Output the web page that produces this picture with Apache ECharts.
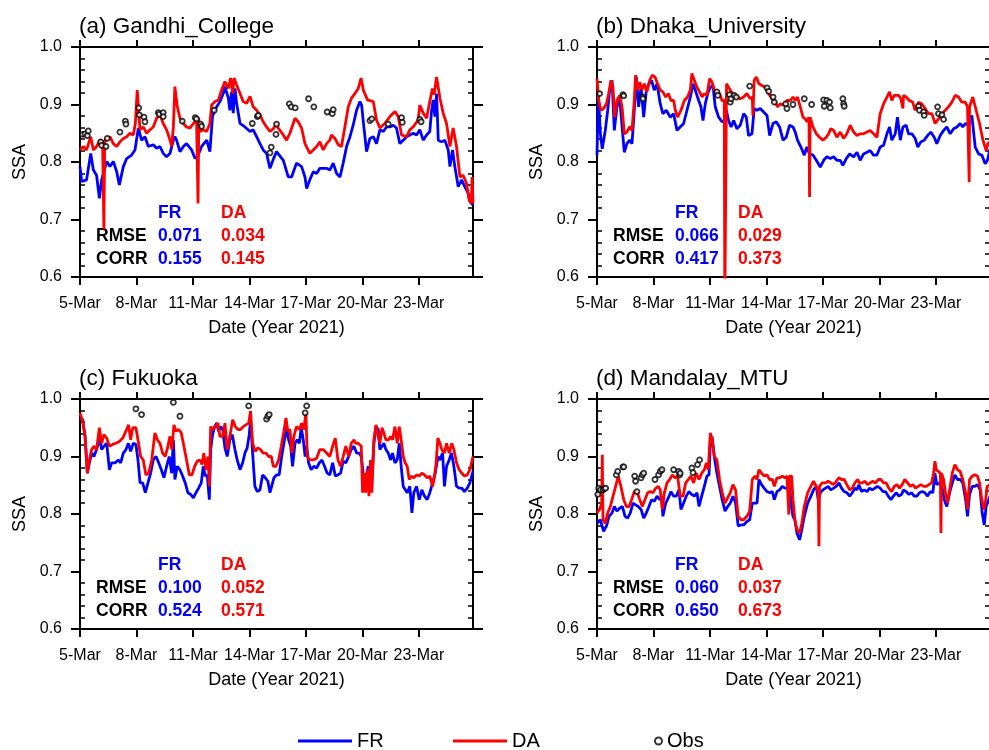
<!DOCTYPE html>
<html><head><meta charset="utf-8">
<script src="https://cdn.jsdelivr.net/npm/echarts@6/dist/echarts.min.js"></script>
<style>html,body{margin:0;padding:0;background:#fff}#c{width:989px;height:750px}</style>
</head><body><div id="c"></div>
<script>
// ---------- data (x = days since 5-Mar-2021 00:00, y = SSA) ----------
const tickDays = [0, 3, 6, 9, 12, 15, 18];
const tickLabels = ['5-Mar', '8-Mar', '11-Mar', '14-Mar', '17-Mar', '20-Mar', '23-Mar'];
const minorY = [0.62,0.64,0.66,0.68,0.72,0.74,0.76,0.78,0.82,0.84,0.86,0.88,0.92,0.94,0.96,0.98];
const panelTitles = ['(a) Gandhi_College', '(b) Dhaka_University', '(c) Fukuoka', '(d) Mandalay_MTU'];
const rmseFR = ['0.071', '0.066', '0.100', '0.060'];
const rmseDA = ['0.034', '0.029', '0.052', '0.037'];
const corrFR = ['0.155', '0.417', '0.524', '0.650'];
const corrDA = ['0.145', '0.373', '0.571', '0.673'];

const gandhiFR = [[0,0.792],[0.09,0.766],[0.35,0.769],[0.57,0.815],[0.71,0.786],[0.88,0.777],[1.03,0.737],[1.15,0.769],[1.42,0.801],[1.59,0.792],[1.77,0.801],[1.95,0.783],[2.09,0.760],[2.30,0.792],[2.48,0.806],[2.74,0.812],[2.92,0.821],[3.10,0.859],[3.27,0.838],[3.45,0.844],[3.63,0.827],[3.89,0.830],[4.07,0.824],[4.25,0.827],[4.42,0.815],[4.60,0.809],[4.78,0.815],[4.96,0.838],[5.04,0.844],[5.13,0.838],[5.31,0.818],[5.49,0.827],[5.66,0.832],[5.93,0.821],[6.11,0.806],[6.28,0.812],[6.46,0.827],[6.73,0.838],[6.90,0.818],[7.04,0.880],[7.26,0.896],[7.43,0.905],[7.61,0.919],[7.70,0.931],[7.88,0.911],[7.96,0.890],[8.05,0.922],[8.14,0.885],[8.23,0.928],[8.32,0.902],[8.50,0.867],[8.76,0.861],[9.03,0.853],[9.20,0.856],[9.38,0.844],[9.56,0.832],[9.73,0.821],[9.91,0.815],[10.09,0.789],[10.27,0.805],[10.44,0.818],[10.53,0.821],[10.80,0.803],[11.06,0.774],[11.24,0.774],[11.50,0.798],[11.77,0.792],[11.95,0.774],[12.04,0.754],[12.21,0.769],[12.39,0.783],[12.57,0.780],[12.74,0.789],[12.92,0.789],[13.10,0.789],[13.27,0.786],[13.45,0.798],[13.63,0.780],[13.81,0.774],[13.98,0.798],[14.16,0.827],[14.34,0.844],[14.51,0.864],[14.69,0.890],[14.87,0.905],[14.96,0.899],[15.04,0.873],[15.22,0.818],[15.40,0.841],[15.58,0.844],[15.75,0.832],[15.93,0.856],[16.11,0.853],[16.28,0.861],[16.46,0.861],[16.64,0.864],[16.81,0.859],[16.99,0.832],[17.17,0.838],[17.35,0.844],[17.52,0.847],[17.70,0.850],[17.88,0.847],[18.05,0.856],[18.23,0.838],[18.41,0.847],[18.58,0.853],[18.67,0.888],[18.76,0.908],[18.85,0.879],[18.94,0.919],[19.03,0.838],[19.20,0.835],[19.38,0.838],[19.56,0.821],[19.65,0.792],[19.79,0.821],[19.91,0.792],[20.09,0.757],[20.27,0.769],[20.44,0.757],[20.62,0.746],[20.71,0.731],[20.80,0.728],[20.875,0.725]];
const gandhiDA = [[0,0.821],[0.18,0.827],[0.35,0.821],[0.57,0.844],[0.71,0.821],[0.88,0.827],[1.06,0.838],[1.20,0.835],[1.25,0.838],[1.27,0.683],[1.29,0.683],[1.31,0.838],[1.42,0.838],[1.59,0.844],[1.77,0.832],[1.95,0.827],[2.12,0.835],[2.30,0.841],[2.48,0.844],[2.65,0.850],[2.83,0.847],[2.94,0.867],[3.04,0.925],[3.19,0.856],[3.36,0.861],[3.54,0.850],[3.72,0.856],[3.89,0.861],[4.07,0.876],[4.25,0.882],[4.42,0.867],[4.60,0.856],[4.78,0.838],[4.87,0.827],[4.96,0.861],[5.04,0.931],[5.17,0.896],[5.31,0.876],[5.49,0.867],[5.66,0.861],[5.84,0.859],[6.02,0.867],[6.19,0.873],[6.25,0.873],[6.27,0.728],[6.29,0.728],[6.31,0.876],[6.37,0.853],[6.55,0.856],[6.73,0.853],[6.90,0.867],[6.99,0.899],[7.17,0.905],[7.35,0.908],[7.52,0.925],[7.70,0.940],[7.88,0.928],[8.00,0.946],[8.11,0.919],[8.18,0.946],[8.32,0.934],[8.50,0.919],[8.67,0.905],[8.85,0.902],[9.03,0.914],[9.20,0.896],[9.38,0.890],[9.56,0.882],[9.73,0.870],[9.91,0.861],[10.09,0.853],[10.27,0.858],[10.44,0.867],[10.53,0.859],[10.80,0.847],[10.97,0.838],[11.15,0.850],[11.42,0.876],[11.59,0.870],[11.77,0.859],[11.95,0.832],[12.04,0.830],[12.21,0.815],[12.39,0.821],[12.57,0.827],[12.74,0.835],[12.83,0.838],[12.92,0.821],[13.10,0.832],[13.27,0.838],[13.36,0.847],[13.54,0.841],[13.72,0.830],[13.89,0.827],[14.07,0.861],[14.25,0.896],[14.42,0.911],[14.60,0.919],[14.78,0.928],[14.93,0.946],[15.05,0.925],[15.27,0.908],[15.58,0.905],[15.75,0.873],[15.93,0.859],[16.19,0.867],[16.46,0.879],[16.73,0.888],[16.90,0.879],[17.08,0.847],[17.35,0.844],[17.52,0.856],[17.70,0.861],[17.96,0.873],[18.05,0.899],[18.23,0.885],[18.41,0.876],[18.58,0.905],[18.72,0.928],[18.81,0.917],[18.94,0.948],[19.12,0.911],[19.29,0.885],[19.47,0.867],[19.65,0.827],[19.82,0.859],[20.00,0.827],[20.18,0.774],[20.35,0.777],[20.53,0.763],[20.67,0.734],[20.78,0.728],[20.83,0.774],[20.875,0.728]];
const gandhiObs = [[0.14,0.848],[0.27,0.849],[0.39,0.846],[0.44,0.854],[1.10,0.835],[1.15,0.829],[1.38,0.827],[1.45,0.841],[2.12,0.852],[2.41,0.871],[2.44,0.866],[3.12,0.894],[3.15,0.882],[3.40,0.878],[3.45,0.870],[4.16,0.886],[4.21,0.883],[4.42,0.886],[4.42,0.879],[5.43,0.871],[6.12,0.877],[6.19,0.875],[6.41,0.866],[6.46,0.862],[7.13,0.890],[9.15,0.867],[9.42,0.879],[9.47,0.881],[10.09,0.816],[10.16,0.826],[10.41,0.848],[10.44,0.866],[11.12,0.901],[11.22,0.896],[11.43,0.894],[12.14,0.910],[12.42,0.896],[13.13,0.887],[13.40,0.884],[13.45,0.891],[15.40,0.872],[15.50,0.875],[16.37,0.866],[17.08,0.877],[17.12,0.869],[18.05,0.874],[18.12,0.870]];

const dhakaFR = [[0,0.812],[0.07,0.919],[0.18,0.849],[0.28,0.823],[0.44,0.855],[0.57,0.890],[0.67,0.925],[0.80,0.942],[0.92,0.855],[1.06,0.896],[1.20,0.913],[1.35,0.855],[1.45,0.817],[1.59,0.832],[1.73,0.838],[1.86,0.832],[1.98,0.890],[2.09,0.948],[2.21,0.896],[2.34,0.930],[2.48,0.878],[2.62,0.925],[2.76,0.936],[2.90,0.942],[3.04,0.925],[3.19,0.936],[3.36,0.901],[3.50,0.884],[3.68,0.890],[3.89,0.878],[4.07,0.884],[4.25,0.855],[4.42,0.861],[4.60,0.867],[4.78,0.890],[4.96,0.913],[5.10,0.936],[5.22,0.925],[5.40,0.907],[5.52,0.896],[5.63,0.872],[5.75,0.901],[5.88,0.919],[6.02,0.930],[6.16,0.933],[6.28,0.896],[6.46,0.878],[6.64,0.870],[6.76,0.872],[6.87,0.890],[6.99,0.872],[7.12,0.861],[7.26,0.872],[7.43,0.858],[7.61,0.864],[7.79,0.884],[7.93,0.878],[8.05,0.846],[8.23,0.849],[8.35,0.893],[8.50,0.890],[8.67,0.893],[8.85,0.887],[9.03,0.881],[9.17,0.846],[9.35,0.867],[9.52,0.870],[9.70,0.861],[9.88,0.838],[10.05,0.843],[10.23,0.864],[10.41,0.861],[10.53,0.852],[10.65,0.838],[10.83,0.826],[11.01,0.812],[11.15,0.826],[11.29,0.814],[11.47,0.812],[11.65,0.803],[11.86,0.791],[12.04,0.803],[12.21,0.809],[12.39,0.806],[12.57,0.809],[12.74,0.803],[12.92,0.803],[13.06,0.794],[13.24,0.806],[13.42,0.814],[13.63,0.809],[13.81,0.817],[13.98,0.803],[14.16,0.814],[14.34,0.817],[14.51,0.820],[14.69,0.812],[14.87,0.812],[15.04,0.826],[15.22,0.829],[15.40,0.849],[15.54,0.861],[15.66,0.838],[15.84,0.849],[15.96,0.878],[16.11,0.838],[16.25,0.861],[16.42,0.864],[16.55,0.849],[16.73,0.849],[16.90,0.841],[17.04,0.826],[17.20,0.835],[17.38,0.838],[17.56,0.846],[17.73,0.852],[17.91,0.843],[18.05,0.832],[18.23,0.846],[18.41,0.855],[18.58,0.861],[18.76,0.849],[18.94,0.858],[19.12,0.861],[19.29,0.867],[19.43,0.861],[19.58,0.867],[19.75,0.864],[19.91,0.881],[19.96,0.884],[20.09,0.826],[20.27,0.814],[20.44,0.812],[20.62,0.797],[20.74,0.803],[20.875,0.822]];
const dhakaDA = [[0,0.945],[0.09,0.907],[0.21,0.890],[0.35,0.893],[0.50,0.901],[0.62,0.919],[0.74,0.942],[0.85,0.930],[0.94,0.878],[1.06,0.907],[1.20,0.916],[1.33,0.896],[1.45,0.849],[1.59,0.852],[1.73,0.861],[1.86,0.855],[1.98,0.907],[2.05,0.951],[2.16,0.925],[2.27,0.939],[2.39,0.925],[2.51,0.936],[2.65,0.922],[2.80,0.942],[2.94,0.951],[3.08,0.948],[3.22,0.936],[3.36,0.925],[3.50,0.922],[3.65,0.913],[3.79,0.919],[3.93,0.907],[4.07,0.907],[4.16,0.890],[4.28,0.878],[4.46,0.890],[4.64,0.907],[4.81,0.913],[4.96,0.925],[5.04,0.954],[5.17,0.942],[5.31,0.930],[5.45,0.922],[5.58,0.913],[5.70,0.919],[5.84,0.916],[5.98,0.945],[6.11,0.939],[6.23,0.925],[6.37,0.922],[6.51,0.919],[6.64,0.907],[6.76,0.907],[6.79,0.55],[6.85,0.55],[6.88,0.936],[7.08,0.925],[7.26,0.916],[7.43,0.913],[7.61,0.910],[7.79,0.913],[7.96,0.919],[8.14,0.910],[8.25,0.913],[8.28,0.881],[8.35,0.942],[8.46,0.948],[8.60,0.936],[8.76,0.933],[8.94,0.930],[9.12,0.919],[9.29,0.910],[9.47,0.904],[9.59,0.896],[9.73,0.901],[9.91,0.899],[10.09,0.907],[10.27,0.907],[10.41,0.913],[10.53,0.907],[10.65,0.913],[10.80,0.896],[10.94,0.878],[11.06,0.875],[11.15,0.870],[11.26,0.878],[11.29,0.739],[11.32,0.878],[11.47,0.861],[11.65,0.849],[11.82,0.843],[12.00,0.838],[12.18,0.843],[12.30,0.849],[12.42,0.858],[12.57,0.855],[12.74,0.843],[12.92,0.852],[13.10,0.841],[13.27,0.849],[13.45,0.864],[13.63,0.852],[13.81,0.846],[13.98,0.849],[14.16,0.849],[14.34,0.852],[14.51,0.855],[14.69,0.849],[14.87,0.843],[15.04,0.884],[15.22,0.901],[15.40,0.913],[15.54,0.922],[15.66,0.907],[15.79,0.916],[15.89,0.913],[16.02,0.916],[16.14,0.910],[16.25,0.893],[16.28,0.916],[16.42,0.913],[16.59,0.907],[16.77,0.904],[16.90,0.890],[17.08,0.904],[17.26,0.901],[17.43,0.893],[17.61,0.884],[17.79,0.884],[17.96,0.867],[18.14,0.875],[18.32,0.884],[18.50,0.890],[18.67,0.896],[18.85,0.904],[19.03,0.916],[19.20,0.913],[19.38,0.904],[19.56,0.904],[19.68,0.896],[19.75,0.896],[19.77,0.765],[19.79,0.896],[19.96,0.913],[20.14,0.890],[20.32,0.867],[20.50,0.838],[20.67,0.820],[20.76,0.832],[20.875,0.835]];
const dhakaObs = [[0.14,0.919],[1.38,0.917],[1.42,0.915],[2.41,0.913],[2.44,0.910],[6.37,0.922],[6.42,0.916],[7.04,0.917],[7.08,0.904],[7.12,0.910],[7.29,0.916],[7.40,0.913],[8.11,0.932],[9.03,0.929],[9.12,0.923],[9.35,0.913],[9.42,0.904],[10.02,0.901],[10.09,0.893],[10.41,0.900],[11.01,0.910],[11.40,0.900],[12.04,0.908],[12.07,0.897],[12.21,0.907],[12.35,0.904],[12.39,0.894],[13.06,0.910],[13.10,0.901],[13.13,0.897],[17.08,0.897],[17.13,0.890],[17.35,0.887],[17.38,0.881],[18.09,0.896],[18.14,0.884],[18.32,0.882],[18.41,0.874]];

const fukuokaFR = [[0,0.967],[0.14,0.964],[0.27,0.935],[0.39,0.871],[0.50,0.889],[0.62,0.906],[0.74,0.900],[0.88,0.912],[1.03,0.932],[1.15,0.912],[1.27,0.918],[1.42,0.923],[1.56,0.877],[1.68,0.889],[1.86,0.889],[2.04,0.894],[2.16,0.889],[2.30,0.906],[2.44,0.912],[2.57,0.923],[2.69,0.909],[2.83,0.923],[2.97,0.921],[3.08,0.894],[3.19,0.854],[3.33,0.854],[3.47,0.837],[3.61,0.854],[3.75,0.871],[3.89,0.894],[4.04,0.900],[4.18,0.889],[4.32,0.877],[4.46,0.863],[4.60,0.883],[4.74,0.900],[4.87,0.871],[4.96,0.929],[5.04,0.860],[5.17,0.883],[5.31,0.877],[5.45,0.866],[5.59,0.854],[5.73,0.837],[5.88,0.834],[6.02,0.828],[6.16,0.837],[6.30,0.845],[6.44,0.854],[6.55,0.883],[6.65,0.866],[6.76,0.868],[6.87,0.825],[6.94,0.912],[7.04,0.938],[7.15,0.952],[7.26,0.958],[7.36,0.944],[7.47,0.952],[7.58,0.947],[7.70,0.915],[7.82,0.900],[7.96,0.929],[8.09,0.938],[8.23,0.912],[8.35,0.894],[8.50,0.877],[8.64,0.889],[8.76,0.906],[8.88,0.915],[8.99,0.938],[9.06,0.964],[9.17,0.906],[9.29,0.848],[9.42,0.839],[9.56,0.842],[9.70,0.868],[9.84,0.863],[9.98,0.857],[10.09,0.837],[10.19,0.834],[10.30,0.863],[10.44,0.868],[10.58,0.868],[10.71,0.900],[10.83,0.923],[10.97,0.950],[11.08,0.929],[11.19,0.918],[11.29,0.883],[11.42,0.923],[11.54,0.929],[11.65,0.923],[11.75,0.950],[11.86,0.929],[11.96,0.900],[12.04,0.918],[12.14,0.889],[12.28,0.877],[12.42,0.883],[12.57,0.880],[12.71,0.889],[12.85,0.894],[12.99,0.883],[13.13,0.871],[13.27,0.868],[13.42,0.889],[13.56,0.866],[13.70,0.868],[13.84,0.871],[13.98,0.892],[14.12,0.889],[14.27,0.900],[14.41,0.912],[14.55,0.918],[14.69,0.906],[14.83,0.906],[14.94,0.900],[15.04,0.871],[15.13,0.842],[15.22,0.866],[15.31,0.883],[15.40,0.842],[15.50,0.854],[15.61,0.923],[15.72,0.952],[15.84,0.947],[15.93,0.912],[16.04,0.918],[16.14,0.923],[16.25,0.912],[16.37,0.906],[16.50,0.894],[16.60,0.906],[16.73,0.889],[16.85,0.894],[16.96,0.923],[17.06,0.883],[17.17,0.848],[17.27,0.848],[17.38,0.837],[17.52,0.848],[17.63,0.802],[17.73,0.837],[17.88,0.848],[18.02,0.825],[18.16,0.842],[18.30,0.831],[18.44,0.825],[18.58,0.837],[18.73,0.854],[18.87,0.871],[19.01,0.900],[19.12,0.894],[19.26,0.906],[19.36,0.848],[19.47,0.883],[19.61,0.894],[19.73,0.906],[19.86,0.883],[20.00,0.848],[20.14,0.845],[20.28,0.845],[20.42,0.839],[20.57,0.845],[20.71,0.854],[20.875,0.874]];
const fukuokaDA = [[0,0.976],[0.14,0.961],[0.27,0.935],[0.39,0.871],[0.50,0.894],[0.62,0.912],[0.74,0.918],[0.88,0.912],[1.03,0.950],[1.15,0.923],[1.27,0.938],[1.42,0.932],[1.56,0.918],[1.73,0.921],[1.91,0.923],[2.09,0.926],[2.27,0.932],[2.44,0.944],[2.58,0.955],[2.69,0.929],[2.80,0.950],[2.97,0.950],[3.08,0.929],[3.22,0.900],[3.36,0.894],[3.50,0.868],[3.65,0.871],[3.81,0.894],[3.98,0.941],[4.11,0.929],[4.25,0.923],[4.39,0.906],[4.53,0.900],[4.67,0.918],[4.78,0.935],[4.88,0.912],[4.99,0.955],[5.10,0.944],[5.24,0.947],[5.38,0.941],[5.52,0.918],[5.66,0.894],[5.81,0.868],[5.95,0.868],[6.09,0.883],[6.23,0.892],[6.37,0.894],[6.48,0.886],[6.58,0.906],[6.69,0.877],[6.80,0.900],[6.87,0.848],[6.94,0.952],[7.04,0.947],[7.19,0.952],[7.33,0.958],[7.43,0.935],[7.58,0.935],[7.70,0.958],[7.82,0.912],[7.96,0.935],[8.11,0.964],[8.25,0.952],[8.39,0.947],[8.53,0.947],[8.67,0.952],[8.81,0.955],[8.96,0.958],[9.06,0.979],[9.17,0.923],[9.31,0.909],[9.45,0.915],[9.59,0.912],[9.73,0.906],[9.88,0.906],[10.02,0.900],[10.16,0.900],[10.27,0.883],[10.41,0.883],[10.55,0.894],[10.69,0.918],[10.83,0.944],[10.94,0.967],[11.04,0.944],[11.15,0.947],[11.26,0.906],[11.36,0.935],[11.50,0.952],[11.65,0.947],[11.77,0.958],[11.89,0.947],[12.00,0.976],[12.07,0.900],[12.21,0.894],[12.39,0.894],[12.57,0.897],[12.74,0.912],[12.92,0.912],[13.10,0.906],[13.27,0.900],[13.42,0.918],[13.56,0.932],[13.70,0.894],[13.84,0.883],[13.98,0.900],[14.12,0.918],[14.27,0.900],[14.41,0.923],[14.55,0.929],[14.65,0.923],[14.78,0.923],[14.94,0.918],[15.01,0.837],[15.10,0.871],[15.17,0.837],[15.26,0.877],[15.35,0.831],[15.43,0.894],[15.50,0.837],[15.61,0.929],[15.72,0.955],[15.84,0.935],[15.93,0.923],[16.04,0.950],[16.14,0.941],[16.25,0.929],[16.39,0.929],[16.50,0.935],[16.60,0.929],[16.73,0.952],[16.85,0.923],[16.96,0.952],[17.06,0.929],[17.17,0.900],[17.27,0.889],[17.38,0.883],[17.49,0.860],[17.59,0.866],[17.73,0.863],[17.88,0.868],[18.02,0.866],[18.16,0.871],[18.30,0.868],[18.44,0.863],[18.58,0.866],[18.73,0.848],[18.80,0.860],[18.90,0.883],[19.01,0.932],[19.12,0.923],[19.22,0.912],[19.36,0.906],[19.47,0.923],[19.61,0.906],[19.75,0.923],[19.86,0.912],[20.00,0.889],[20.14,0.877],[20.28,0.871],[20.42,0.866],[20.57,0.868],[20.71,0.877],[20.875,0.900]];
const fukuokaObs = [[2.97,0.983],[3.27,0.973],[4.96,0.994],[5.31,0.970],[8.96,0.988],[9.91,0.965],[9.98,0.970],[10.05,0.973],[11.96,0.976],[12.04,0.988]];

const mandalayFR = [[0,0.784],[0.18,0.790],[0.35,0.770],[0.50,0.779],[0.64,0.796],[0.80,0.802],[0.92,0.813],[1.06,0.805],[1.20,0.810],[1.35,0.813],[1.49,0.796],[1.63,0.793],[1.77,0.802],[1.91,0.819],[2.05,0.816],[2.19,0.813],[2.34,0.808],[2.48,0.793],[2.62,0.802],[2.76,0.813],[2.90,0.825],[3.04,0.822],[3.19,0.831],[3.33,0.825],[3.43,0.831],[3.50,0.796],[3.65,0.819],[3.79,0.828],[3.93,0.839],[4.07,0.831],[4.21,0.831],[4.35,0.842],[4.46,0.808],[4.60,0.819],[4.74,0.831],[4.88,0.839],[5.03,0.834],[5.17,0.831],[5.31,0.837],[5.42,0.813],[5.56,0.831],[5.70,0.848],[5.84,0.866],[5.95,0.868],[6.02,0.923],[6.11,0.935],[6.23,0.900],[6.37,0.871],[6.51,0.848],[6.65,0.825],[6.80,0.805],[6.94,0.813],[7.08,0.819],[7.22,0.831],[7.36,0.819],[7.50,0.779],[7.65,0.781],[7.79,0.781],[7.96,0.787],[8.11,0.790],[8.25,0.819],[8.39,0.819],[8.50,0.819],[8.60,0.860],[8.74,0.851],[8.88,0.845],[9.03,0.839],[9.17,0.837],[9.31,0.839],[9.42,0.825],[9.56,0.839],[9.70,0.842],[9.84,0.848],[9.98,0.845],[10.12,0.845],[10.23,0.848],[10.34,0.810],[10.41,0.796],[10.51,0.790],[10.62,0.767],[10.76,0.755],[10.88,0.773],[11.01,0.796],[11.19,0.819],[11.36,0.831],[11.50,0.842],[11.65,0.848],[11.75,0.825],[11.86,0.837],[12.00,0.842],[12.14,0.845],[12.28,0.848],[12.42,0.842],[12.57,0.845],[12.71,0.848],[12.85,0.854],[12.99,0.845],[13.13,0.839],[13.27,0.837],[13.42,0.831],[13.56,0.837],[13.70,0.845],[13.81,0.842],[13.91,0.851],[14.05,0.839],[14.19,0.842],[14.34,0.839],[14.48,0.845],[14.62,0.842],[14.76,0.845],[14.90,0.848],[15.04,0.845],[15.19,0.839],[15.33,0.839],[15.47,0.831],[15.61,0.825],[15.75,0.831],[15.89,0.837],[16.04,0.831],[16.18,0.834],[16.28,0.842],[16.42,0.839],[16.57,0.834],[16.71,0.837],[16.85,0.831],[16.99,0.831],[17.13,0.837],[17.27,0.839],[17.42,0.837],[17.56,0.831],[17.70,0.839],[17.84,0.837],[17.95,0.871],[18.05,0.851],[18.19,0.854],[18.34,0.845],[18.44,0.825],[18.58,0.813],[18.73,0.837],[18.87,0.854],[19.01,0.868],[19.15,0.860],[19.29,0.860],[19.43,0.854],[19.58,0.825],[19.68,0.796],[19.79,0.834],[19.93,0.848],[20.07,0.848],[20.21,0.851],[20.35,0.842],[20.46,0.802],[20.57,0.781],[20.67,0.813],[20.875,0.831]];
const mandalayDA = [[0,0.802],[0.14,0.808],[0.25,0.819],[0.28,0.903],[0.32,0.790],[0.44,0.784],[0.57,0.802],[0.71,0.813],[0.85,0.831],[0.99,0.848],[1.13,0.866],[1.27,0.848],[1.42,0.825],[1.56,0.813],[1.70,0.813],[1.84,0.825],[1.98,0.839],[2.12,0.839],[2.27,0.825],[2.41,0.813],[2.55,0.825],[2.69,0.837],[2.83,0.839],[2.97,0.837],[3.12,0.845],[3.26,0.848],[3.36,0.842],[3.47,0.808],[3.58,0.837],[3.72,0.854],[3.86,0.860],[4.00,0.868],[4.14,0.863],[4.28,0.866],[4.42,0.831],[4.57,0.831],[4.71,0.854],[4.85,0.860],[4.99,0.866],[5.13,0.854],[5.27,0.871],[5.42,0.860],[5.56,0.871],[5.70,0.877],[5.81,0.889],[5.91,0.877],[6.02,0.941],[6.12,0.929],[6.23,0.900],[6.37,0.894],[6.51,0.860],[6.65,0.837],[6.80,0.819],[6.94,0.828],[7.08,0.837],[7.22,0.851],[7.36,0.842],[7.50,0.796],[7.65,0.790],[7.79,0.790],[7.96,0.796],[8.11,0.805],[8.25,0.860],[8.39,0.866],[8.50,0.860],[8.60,0.877],[8.74,0.871],[8.88,0.866],[9.03,0.868],[9.17,0.860],[9.31,0.860],[9.42,0.848],[9.56,0.863],[9.70,0.863],[9.84,0.866],[9.98,0.863],[10.09,0.866],[10.16,0.866],[10.19,0.799],[10.22,0.866],[10.34,0.866],[10.41,0.825],[10.51,0.790],[10.62,0.773],[10.76,0.767],[10.88,0.784],[11.01,0.813],[11.19,0.837],[11.36,0.848],[11.50,0.857],[11.65,0.848],[11.75,0.837],[11.79,0.744],[11.82,0.848],[11.96,0.854],[12.14,0.854],[12.28,0.857],[12.42,0.854],[12.57,0.851],[12.71,0.857],[12.85,0.863],[12.99,0.860],[13.13,0.860],[13.27,0.851],[13.42,0.842],[13.56,0.845],[13.70,0.854],[13.84,0.860],[13.95,0.854],[14.09,0.854],[14.23,0.857],[14.37,0.851],[14.51,0.854],[14.65,0.857],[14.80,0.854],[14.94,0.860],[15.08,0.860],[15.22,0.854],[15.36,0.854],[15.50,0.845],[15.65,0.839],[15.79,0.848],[15.93,0.851],[16.07,0.845],[16.21,0.851],[16.35,0.860],[16.50,0.854],[16.64,0.848],[16.78,0.851],[16.92,0.845],[17.06,0.848],[17.20,0.851],[17.35,0.848],[17.49,0.848],[17.63,0.851],[17.77,0.854],[17.88,0.871],[17.95,0.892],[18.02,0.877],[18.12,0.874],[18.24,0.871],[18.27,0.767],[18.30,0.871],[18.41,0.860],[18.51,0.837],[18.62,0.819],[18.73,0.842],[18.87,0.871],[19.01,0.886],[19.15,0.877],[19.29,0.874],[19.43,0.860],[19.58,0.837],[19.68,0.808],[19.79,0.860],[19.93,0.866],[20.07,0.868],[20.21,0.866],[20.32,0.854],[20.44,0.825],[20.55,0.808],[20.65,0.825],[20.72,0.848],[20.875,0.851]];
const mandalayObs = [[0.04,0.834],[0.09,0.845],[0.18,0.842],[0.32,0.842],[0.39,0.844],[0.46,0.845],[1.03,0.868],[1.10,0.874],[1.38,0.882],[1.42,0.882],[2.00,0.866],[2.05,0.857],[2.12,0.839],[2.34,0.863],[2.41,0.868],[2.48,0.871],[3.08,0.860],[3.27,0.868],[3.36,0.874],[3.45,0.877],[4.07,0.877],[4.34,0.874],[4.39,0.868],[4.42,0.871],[5.04,0.880],[5.10,0.872],[5.34,0.886],[5.45,0.894]];

// ---------- layout / style ----------
const XMAX = 20.875;
const FONT = '"Liberation Sans", Arial, Helvetica, sans-serif';
const gridPos = [{left:80, top:47}, {left:597, top:47}, {left:80, top:399}, {left:597, top:399}];
const GW = 393, GH = 230;
const panelData = [
  [gandhiFR, gandhiDA, gandhiObs],
  [dhakaFR, dhakaDA, dhakaObs],
  [fukuokaFR, fukuokaDA, fukuokaObs],
  [mandalayFR, mandalayDA, mandalayObs]
];
const BLUE = '#0000ff', RED = '#ff0000';

function fmtX(v) {
  const r = Math.round(v);
  if (Math.abs(v - r) > 1e-6) return '';
  const i = tickDays.indexOf(r);
  return i >= 0 ? tickLabels[i] : '';
}
const black2 = {color:'#000', width:2};
const legendText = {fontSize:20, color:'#000', fontFamily:FONT};

const option = {
  animation: false,
  backgroundColor: '#fff',
  textStyle: {fontFamily: FONT},
  grid: [], xAxis: [], yAxis: [], series: [], graphic: [],
  legend: [
    {data:[{name:'FR', icon:'rect'}], left:298, top:731, padding:0, itemWidth:54, itemHeight:3,
     selectedMode:false, textStyle:legendText},
    {data:[{name:'DA', icon:'rect'}], left:453, top:731, padding:0, itemWidth:54, itemHeight:3,
     selectedMode:false, textStyle:legendText},
    {data:['Obs'], left:654, top:731, padding:0, itemWidth:7, itemHeight:7,
     selectedMode:false, textStyle:legendText}
  ]
};

function txt(x, y, text, color, size, bold) {
  return {type:'text', x:x, y:y, silent:true,
    style:{text:text, fill:color, font:(bold ? 'bold ' : '') + size + 'px ' + FONT,
      textAlign:'left', textVerticalAlign:'middle', align:'left', verticalAlign:'middle'}};
}

gridPos.forEach((g, i) => {
  option.grid.push({left:g.left, top:g.top, width:GW, height:GH, containLabel:false, outerBoundsMode:'none'});
  const xb = {gridIndex:i, type:'value', min:0, max:XMAX, interval:3, splitLine:{show:false}};
  option.xAxis.push(Object.assign({}, xb, {
    position:'bottom',
    axisLine:{show:true, onZero:false, lineStyle:black2},
    axisTick:{show:true, length:8, lineStyle:black2, customValues:tickDays},
    axisLabel:{show:true, customValues:tickDays, formatter:fmtX, fontSize:16, color:'#000', margin:19, fontFamily:FONT},
    name:'Date (Year 2021)', nameLocation:'middle', nameGap:42,
    nameTextStyle:{fontSize:18, color:'#000', fontFamily:FONT}
  }));
  option.xAxis.push(Object.assign({}, xb, {
    position:'top',
    axisLine:{show:true, onZero:false, lineStyle:black2},
    axisTick:{show:true, length:7, lineStyle:black2, customValues:tickDays},
    axisLabel:{show:false}
  }));
  const yb = {gridIndex:i, type:'value', min:0.6, max:1.0, splitLine:{show:false}};
  option.yAxis.push(Object.assign({}, yb, {
    position:'left', interval:0.1,
    axisLine:{show:true, onZero:false, lineStyle:black2},
    axisTick:{show:true, length:9, lineStyle:black2},
    axisLabel:{show:true, fontSize:16, color:'#000', margin:18, fontFamily:FONT, formatter:v => v.toFixed(1)},
    name:'SSA', nameLocation:'middle', nameGap:51,
    nameTextStyle:{fontSize:18, color:'#000', fontFamily:FONT}
  }));
  option.yAxis.push(Object.assign({}, yb, {
    position:'left', interval:0.02,
    axisLine:{show:false, onZero:false},
    axisTick:{show:true, inside:true, length:5, lineStyle:{color:'#000', width:1.5}, customValues:minorY},
    axisLabel:{show:false}
  }));
  option.yAxis.push(Object.assign({}, yb, {
    position:'right', interval:0.1,
    axisLine:{show:true, onZero:false, lineStyle:black2},
    axisTick:{show:true, length:10, lineStyle:black2},
    axisLabel:{show:false}
  }));
  option.yAxis.push(Object.assign({}, yb, {
    position:'right', interval:0.02,
    axisLine:{show:false, onZero:false},
    axisTick:{show:true, inside:true, length:5, lineStyle:{color:'#000', width:1.5}, customValues:minorY},
    axisLabel:{show:false}
  }));

  const [fr, da, obs] = panelData[i];
  const xi = 2 * i, yi = 4 * i;
  option.series.push({name:'FR', type:'line', xAxisIndex:xi, yAxisIndex:yi, data:fr,
    symbol:'none', showSymbol:false, clip:true, lineStyle:{color:BLUE, width:2.8}, itemStyle:{color:BLUE}, z:2});
  option.series.push({name:'DA', type:'line', xAxisIndex:xi, yAxisIndex:yi, data:da,
    symbol:'none', showSymbol:false, clip:true, lineStyle:{color:RED, width:2.8}, itemStyle:{color:RED}, z:3});
  option.series.push({name:'Obs', type:'scatter', xAxisIndex:xi, yAxisIndex:yi, data:obs,
    symbol:'circle', symbolSize:5, clip:true,
    itemStyle:{color:'#fff', borderColor:'#000', borderWidth:1.8}, z:4});

  const L = g.left, T = g.top;
  option.graphic.push(txt(L - 1, T - 20, panelTitles[i], '#000', 22.5, false));
  option.graphic.push(txt(L + 78, T + 166, 'FR', BLUE, 17.5, true));
  option.graphic.push(txt(L + 141, T + 166, 'DA', RED, 17.5, true));
  option.graphic.push(txt(L + 16, T + 189, 'RMSE', '#000', 17.5, true));
  option.graphic.push(txt(L + 78, T + 189, rmseFR[i], BLUE, 17.5, true));
  option.graphic.push(txt(L + 141, T + 189, rmseDA[i], RED, 17.5, true));
  option.graphic.push(txt(L + 16, T + 212, 'CORR', '#000', 17.5, true));
  option.graphic.push(txt(L + 78, T + 212, corrFR[i], BLUE, 17.5, true));
  option.graphic.push(txt(L + 141, T + 212, corrDA[i], RED, 17.5, true));
});

const chart = echarts.init(document.getElementById('c'), null, {renderer:'canvas'});
chart.setOption(option);
</script>
</body></html>
